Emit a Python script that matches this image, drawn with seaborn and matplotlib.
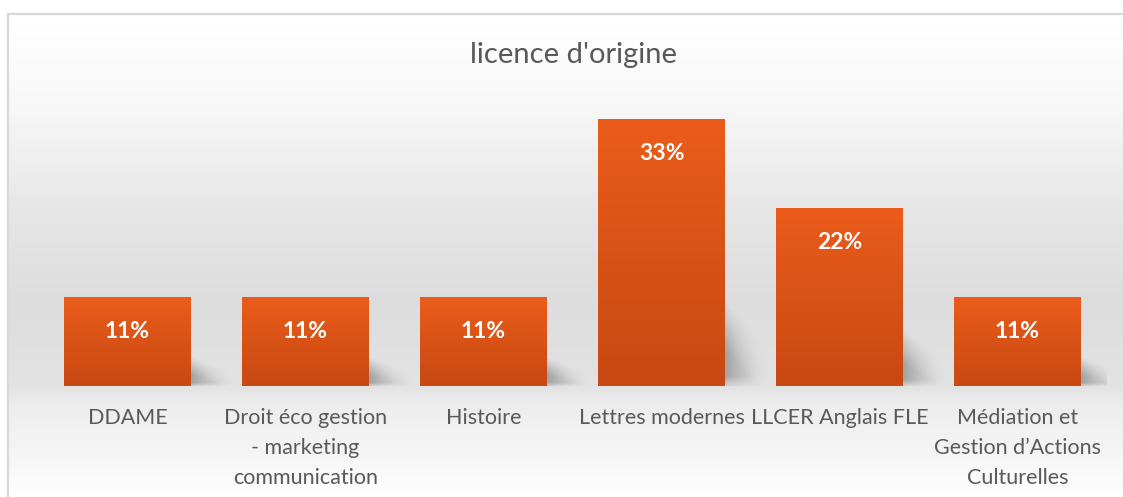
import numpy as np
import pandas as pd
import matplotlib
matplotlib.use('Agg')
import matplotlib.pyplot as plt
import seaborn as sns
from matplotlib.colors import LinearSegmentedColormap

# Données
categories = ['DDAME',
              'Droit éco gestion\n- marketing\ncommunication',
              'Histoire',
              'Lettres modernes',
              'LLCER Anglais FLE',
              'Médiation et\nGestion d’Actions\nCulturelles']
shares = [0.11, 0.11, 0.11, 0.33, 0.22, 0.11]
labels = ['11%', '11%', '11%', '33%', '22%', '11%']

df = pd.DataFrame({'licence': categories, 'part': shares})

sns.set_theme(style='white')
plt.rcParams['font.family'] = ['Lato', 'DejaVu Sans']

W, H = 1123, 497
fig = plt.figure(figsize=(W / 100, H / 100), dpi=100)

# Fond dégradé du cadre (style Excel)
bg = fig.add_axes([8 / W, 0, 1 - 8 / W, 483 / H], zorder=0)
ypix = np.arange(483)
stops_y = [0, 90, 200, 290, 372, 390, 483]
stops_v = [255, 247, 229, 220, 226, 236, 253]
col = np.interp(ypix, stops_y, stops_v) / 255
grad = np.repeat(col[:, None], 10, axis=1)
bg.imshow(grad, cmap='gray', vmin=0, vmax=1, aspect='auto', extent=[0, 1, 0, 1])
bg.set_xticks([])
bg.set_yticks([])
for side in ['right', 'bottom']:
    bg.spines[side].set_visible(False)
for side in ['left', 'top']:
    bg.spines[side].set_color('#d9d9d9')
    bg.spines[side].set_linewidth(1.6)

# Graphique
ax = fig.add_axes([38.5 / W, 111 / H, 1068 / W, 283 / H], zorder=1)
ax.patch.set_alpha(0)
sns.barplot(data=df, x='licence', y='part', width=0.71, color='#E0561A',
            saturation=1, ax=ax)

bar_cmap = LinearSegmentedColormap.from_list('bar', ['#C84912', '#EA5C1B'])
shadow_rgb = np.zeros((60, 60, 4))
u = np.linspace(0, 1, 60)[None, :]
v = np.linspace(1, 0, 60)[:, None]
top = 1 - 0.55 * u
a = 0.28 * (1 - u) ** 1.4 * np.clip((top - v) / 0.6, 0, 1) * np.clip(v / 0.15 + 0.3, 0, 1)
shadow_rgb[..., 3] = np.clip(a, 0, 1)

for p in ax.patches:
    x, w, h = p.get_x(), p.get_width(), p.get_height()
    p.set_alpha(0)
    g = np.linspace(1, 0, 100)[:, None]
    ax.imshow(g, cmap=bar_cmap, aspect='auto', extent=[x, x + w, 0, h], zorder=3)
    ax.imshow(shadow_rgb, aspect='auto', extent=[x + w, x + w + 0.25, 0, h * 0.32],
              zorder=2, interpolation='bilinear')

ax.bar_label(ax.containers[0], labels=labels, padding=-32, color='white',
             fontweight='bold', fontsize=16.5, zorder=5)

ax.set_xlim(-0.5, len(categories) - 0.5)
ax.set_ylim(0, 0.35)
ax.set_xlabel('')
ax.set_ylabel('')
ax.set_yticks([])
sns.despine(ax=ax, left=True, bottom=True)
ax.tick_params(axis='x', length=0, pad=16, labelsize=15.5, colors='#595959')
for t in ax.get_xticklabels():
    t.set_linespacing(1.62)

fig.text(574 / W, 1 - 55 / H, "licence d'origine", ha='center', va='center',
         fontsize=21, color='#595959')

fig.savefig('out.png', dpi=100)
